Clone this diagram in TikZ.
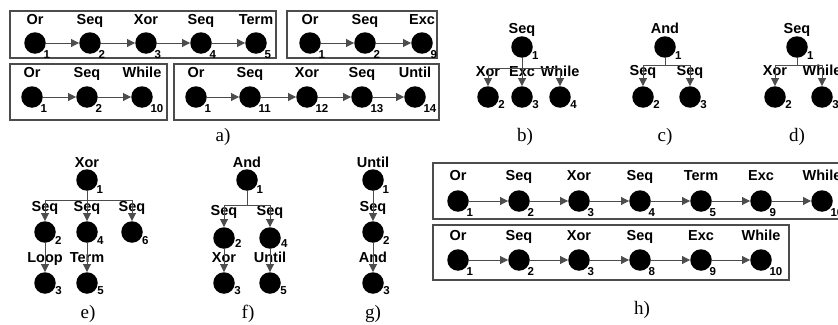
\documentclass[tikz,border=0pt]{standalone}
\usepackage{fontspec}
\setmainfont{Liberation Serif}
\setsansfont{Liberation Sans}
\usetikzlibrary{arrows.meta}

\begin{document}
\begin{tikzpicture}[x=1pt, y=-1pt,
    dot/.style={circle, fill=black, inner sep=0pt, minimum size=21.5pt},
    lbl/.style={font=\sffamily\bfseries\fontsize{14.5}{15}\selectfont, anchor=base, inner sep=0pt, label distance=#1},
    lbl/.default=7.5pt,
    num/.style={font=\sffamily\bfseries\fontsize{11.5}{12}\selectfont, anchor=north west, inner sep=0pt},
    link/.style={draw=black!70, line width=0.9pt, -{Triangle[length=8pt,width=8pt]}},
    stem/.style={draw=black!70, line width=0.9pt},
    frame/.style={draw=black!70, line width=1.3pt},
    sublbl/.style={font=\fontsize{19}{20}\selectfont}]
    \clip (0,0) rectangle (838,324);

    % a) chains
    \draw[frame] (10,11) rectangle (276,58);
    \foreach \x/\name/\num [count=\i] in {35/Or/1, 90/Seq/2, 146/Xor/3, 201/Seq/4, 256/Term/5} {
        \node[dot, label={[lbl]above:\name}, label={[num]-40:\num}] (A\i) at (\x,43) {};
    }
    \foreach \i/\j in {1/2, 2/3, 3/4, 4/5} \draw[link] (A\i) -- (A\j);

    \draw[frame] (287,11) rectangle (437,58);
    \foreach \x/\name/\num [count=\i] in {310/Or/1, 365/Seq/2, 422/Exc/9} {
        \node[dot, label={[lbl]above:\name}, label={[num]-40:\num}] (P\i) at (\x,43) {};
    }
    \foreach \i/\j in {1/2, 2/3} \draw[link] (P\i) -- (P\j);

    \draw[frame] (10,64) rectangle (167,120);
    \foreach \x/\name/\num [count=\i] in {32/Or/1, 87/Seq/2, 142/While/10} {
        \node[dot, label={[lbl=8.5pt]above:\name}, label={[num]-40:\num}] (Q\i) at (\x,97) {};
    }
    \foreach \i/\j in {1/2, 2/3} \draw[link] (Q\i) -- (Q\j);

    \draw[frame] (174,64) rectangle (439,120);
    \foreach \x/\name/\num [count=\i] in {196/Or/1, 250/Seq/11, 307/Xor/12, 362/Seq/13, 415/Until/14} {
        \node[dot, label={[lbl=8.5pt]above:\name}, label={[num]-40:\num}] (R\i) at (\x,97) {};
    }
    \foreach \i/\j in {1/2, 2/3, 3/4, 4/5} \draw[link] (R\i) -- (R\j);

    % b) tree
    \node[dot, label={[lbl=3pt]above:Seq}, label={[num]-25:1}] (B1) at (522,47) {};
    \foreach \x/\name/\num [count=\i from 2] in {488/Xor/2, 522/Exc/3, 560/While/4} {
        \node[dot, label={[lbl=9.5pt]above:\name}, label={[num]-20:\num}] (B\i) at (\x,97) {};
    }
    \coordinate (Bbar) at (522,68);
    \draw[stem] (B1) -- (Bbar);
    \foreach \i in {2,3,4} \draw[link] (Bbar) -| (B\i);

    % c) tree
    \node[dot, label={[lbl=3pt]above:And}, label={[num]-25:1}] (C1) at (665,47) {};
    \foreach \x/\name/\num [count=\i from 2] in {643/Seq/2, 690/Seq/3} {
        \node[dot, label={[lbl=11pt]above:\name}, label={[num]-20:\num}] (C\i) at (\x,97) {};
    }
    \coordinate (Cbar) at (665,65);
    \draw[stem] (C1) -- (Cbar);
    \foreach \i in {2,3} \draw[link] (Cbar) -| (C\i);

    % d) tree
    \node[dot, label={[lbl=3pt]above:Seq}, label={[num]-25:1}] (D1) at (797,47) {};
    \foreach \x/\name/\num [count=\i from 2] in {775/Xor/2, 822/While/3} {
        \node[dot, label={[lbl=11pt]above:\name}, label={[num]-20:\num}] (D\i) at (\x,97) {};
    }
    \coordinate (Dbar) at (797,65);
    \draw[stem] (D1) -- (Dbar);
    \foreach \i in {2,3} \draw[link] (Dbar) -| (D\i);

    % e) tree
    \node[dot, label={[lbl=2pt]above:Xor}, label={[num]-30:1}] (E1) at (87,180) {};
    \node[dot, label={[lbl=10pt]above:Seq}, label={[num]-25:2}] (E2) at (45,232) {};
    \node[dot, label={[lbl=10pt]above:Seq}, label={[num]-25:4}] (E4) at (87,232) {};
    \node[dot, label={[lbl=10pt]above:Seq}, label={[num]-25:6}] (E6) at (132,232) {};
    \node[dot, label={[lbl=10pt]above:Loop}, label={[num]-20:3}] (E3) at (45,283) {};
    \node[dot, label={[lbl=10pt]above:Term}, label={[num]-20:5}] (E5) at (87,283) {};
    \coordinate (Ebar) at (87,200);
    \draw[stem] (E1) -- (Ebar);
    \foreach \i in {2,4,6} \draw[link] (Ebar) -| (E\i);
    \draw[link] (E2) -- (E3);
    \draw[link] (E4) -- (E5);

    % f) tree
    \node[dot, label={[lbl=2pt]above:And}, label={[num]-30:1}] (F1) at (247,180) {};
    \node[dot, label={[lbl=12pt]above:Seq}, label={[num]-5:2}] (F2) at (224,238) {};
    \node[dot, label={[lbl=12pt]above:Seq}, label={[num]-5:4}] (F4) at (270,238) {};
    \node[dot, label={[lbl=10pt]above:Xor}, label={[num]-20:3}] (F3) at (224,283) {};
    \node[dot, label={[lbl=10pt]above:Until}, label={[num]-20:5}] (F5) at (270,283) {};
    \coordinate (Fbar) at (247,205);
    \draw[stem] (F1) -- (Fbar);
    \foreach \i in {2,4} \draw[link] (Fbar) -| (F\i);
    \draw[link] (F2) -- (F3);
    \draw[link] (F4) -- (F5);

    % g) chain tree
    \node[dot, label={[lbl=2pt]above:Until}, label={[num]-30:1}] (G1) at (373,180) {};
    \node[dot, label={[lbl=10pt]above:Seq}, label={[num]-25:2}] (G2) at (373,232) {};
    \node[dot, label={[lbl=10pt]above:And}, label={[num]-20:3}] (G3) at (373,283) {};
    \draw[link] (G1) -- (G2);
    \draw[link] (G2) -- (G3);

    % h) merged chains
    \draw[frame] (433,163) rectangle (850,219);
    \foreach \x/\name/\num [count=\i] in {458/Or/1, 519/Seq/2, 579/Xor/3, 640/Seq/4, 701/Term/5, 761/Exc/9, 822/While/10} {
        \node[dot, label={[lbl=10pt]above:\name}, label={[num]-40:\num}] (H\i) at (\x,201) {};
    }
    \foreach \i/\j in {1/2, 2/3, 3/4, 4/5, 5/6, 6/7} \draw[link] (H\i) -- (H\j);

    \draw[frame] (433,225) rectangle (789,280);
    \foreach \x/\name/\num [count=\i] in {458/Or/1, 519/Seq/2, 579/Xor/3, 640/Seq/8, 701/Exc/9, 761/While/10} {
        \node[dot, label={[lbl=8.5pt]above:\name}, label={[num]-40:\num}] (K\i) at (\x,260) {};
    }
    \foreach \i/\j in {1/2, 2/3, 3/4, 4/5, 5/6} \draw[link] (K\i) -- (K\j);

    % captions
    \node[sublbl] (capa) at (223,137) {a)};
    \node[sublbl] (capb) at (525,137) {b)};
    \node[sublbl] (capc) at (665,137) {c)};
    \node[sublbl] (capd) at (797,137) {d)};
    \node[sublbl] (cape) at (88,314) {e)};
    \node[sublbl] (capf) at (248,314) {f)};
    \node[sublbl] (capg) at (373,314) {g)};
    \node[sublbl] (caph) at (642,310) {h)};
\end{tikzpicture}
\end{document}
